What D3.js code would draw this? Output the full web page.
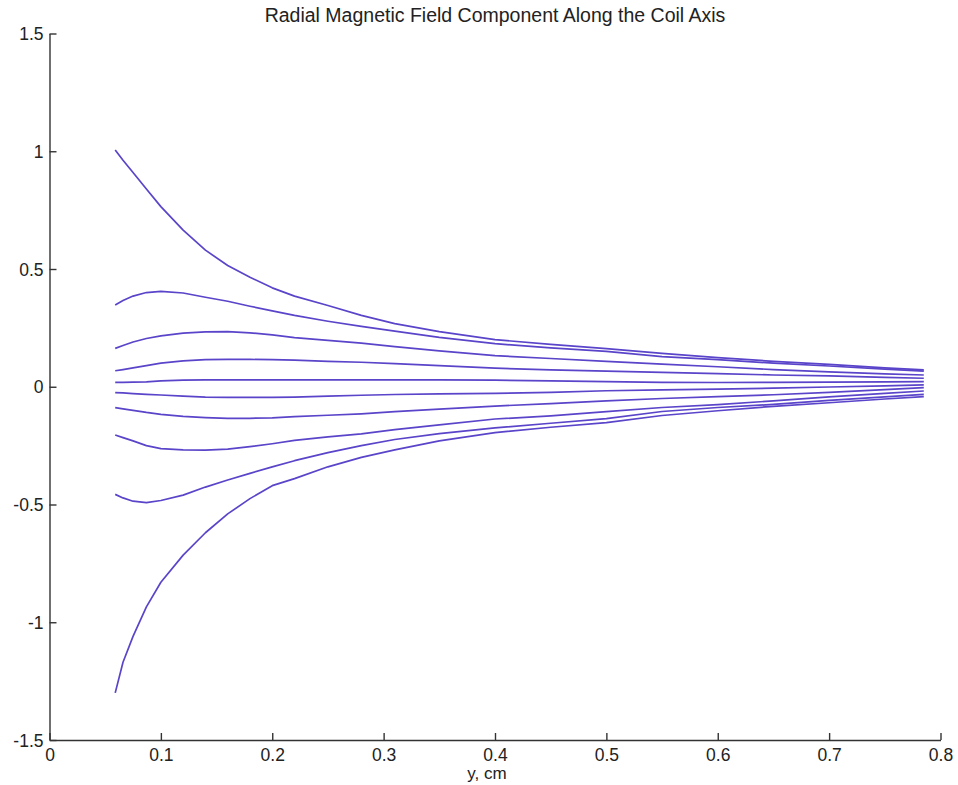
<!DOCTYPE html>
<html>
<head>
<meta charset="utf-8">
<script src="https://cdn.jsdelivr.net/npm/d3@7"></script>
<style>
  body { margin: 0; background: #fff; }
  svg text { font-family: "Liberation Sans", Arial, Helvetica, sans-serif; fill: #222; }
</style>
</head>
<body>
<div class="chart"></div>
<script>
// sample positions along the coil axis (cm)
var yPos = [0.059, 0.066, 0.075, 0.087, 0.1, 0.12, 0.14, 0.16, 0.18, 0.2, 0.22, 0.25,
            0.28, 0.31, 0.35, 0.4, 0.45, 0.5, 0.55, 0.6, 0.65, 0.7, 0.75, 0.785];

// radial field, one array per curve (top to bottom)
var br1  = [1.005, 0.962, 0.91, 0.84, 0.765, 0.665, 0.58, 0.515, 0.465, 0.42, 0.385, 0.345,
            0.303, 0.268, 0.234, 0.2, 0.18, 0.162, 0.142, 0.124, 0.108, 0.095, 0.08, 0.072];
var br2  = [0.347, 0.366, 0.385, 0.4, 0.405, 0.398, 0.38, 0.363, 0.342, 0.322, 0.303, 0.278,
            0.256, 0.236, 0.21, 0.183, 0.165, 0.15, 0.128, 0.115, 0.1, 0.088, 0.075, 0.066];
var br3  = [0.163, 0.175, 0.19, 0.205, 0.216, 0.228, 0.233, 0.234, 0.229, 0.22, 0.209, 0.197,
            0.185, 0.17, 0.152, 0.132, 0.12, 0.108, 0.096, 0.085, 0.073, 0.063, 0.055, 0.05];
var br4  = [0.068, 0.073, 0.08, 0.09, 0.1, 0.11, 0.115, 0.116, 0.116, 0.115, 0.113, 0.108,
            0.104, 0.098, 0.09, 0.079, 0.072, 0.066, 0.061, 0.056, 0.05, 0.046, 0.04, 0.036];
var br5  = [0.019, 0.019, 0.02, 0.021, 0.025, 0.028, 0.029, 0.029, 0.029, 0.029, 0.029, 0.029,
            0.029, 0.029, 0.029, 0.028, 0.025, 0.022, 0.019, 0.018, 0.019, 0.02, 0.021, 0.022];
var br6  = [-0.025, -0.026, -0.029, -0.032, -0.035, -0.04, -0.044, -0.045, -0.045, -0.045, -0.044, -0.04,
            -0.036, -0.033, -0.03, -0.028, -0.024, -0.017, -0.013, -0.01, -0.006, -0.001, 0.004, 0.008];
var br7  = [-0.089, -0.094, -0.1, -0.109, -0.117, -0.126, -0.131, -0.134, -0.134, -0.132, -0.127, -0.121,
            -0.115, -0.106, -0.095, -0.082, -0.072, -0.06, -0.05, -0.042, -0.034, -0.024, -0.012, -0.004];
var br8  = [-0.205, -0.216, -0.23, -0.25, -0.263, -0.268, -0.269, -0.265, -0.254, -0.242, -0.228, -0.213,
            -0.2, -0.182, -0.162, -0.137, -0.124, -0.106, -0.088, -0.076, -0.06, -0.043, -0.028, -0.018];
var br9  = [-0.457, -0.472, -0.486, -0.492, -0.483, -0.46, -0.426, -0.396, -0.368, -0.34, -0.314, -0.28,
            -0.25, -0.224, -0.199, -0.175, -0.155, -0.135, -0.105, -0.088, -0.075, -0.058, -0.043, -0.032];
var br10 = [-1.3, -1.17, -1.06, -0.935, -0.83, -0.715, -0.62, -0.54, -0.475, -0.42, -0.39, -0.34,
            -0.3, -0.268, -0.23, -0.195, -0.172, -0.152, -0.122, -0.102, -0.083, -0.068, -0.052, -0.042];

var series = [br1, br2, br3, br4, br5, br6, br7, br8, br9, br10];

var xTicks = [0, 0.1, 0.2, 0.3, 0.4, 0.5, 0.6, 0.7, 0.8];
var xTickLabels = ["0", "0.1", "0.2", "0.3", "0.4", "0.5", "0.6", "0.7", "0.8"];
var yTicks = [-1.5, -1, -0.5, 0, 0.5, 1, 1.5];
var yTickLabels = ["-1.5", "-1", "-0.5", "0", "0.5", "1", "1.5"];

var width = 958, height = 785;
var margin = {top: 33.5, right: 17.5, bottom: 45, left: 49.5};

var svg = d3.select(".chart")
    .append("svg")
    .attr("width", width)
    .attr("height", height);

var x = d3.scaleLinear().domain([0, 0.8]).range([margin.left, width - margin.right]);
var y = d3.scaleLinear().domain([-1.5, 1.5]).range([height - margin.bottom, margin.top]);

// axes, matlab style: ticks pointing inward
var xAxis = svg.append("g")
    .attr("transform", "translate(0," + y(-1.5) + ")")
    .call(d3.axisBottom(x)
        .tickValues(xTicks)
        .tickFormat(function(d, i) { return xTickLabels[i]; })
        .tickSize(-7)
        .tickSizeOuter(0)
        .tickPadding(9));

var yAxis = svg.append("g")
    .attr("transform", "translate(" + x(0) + ",0)")
    .call(d3.axisLeft(y)
        .tickValues(yTicks)
        .tickFormat(function(d, i) { return yTickLabels[i]; })
        .tickSize(-7)
        .tickSizeOuter(0)
        .tickPadding(6));

svg.selectAll(".domain, .tick line")
    .attr("stroke", "#333")
    .attr("stroke-width", 1.4);
svg.selectAll(".tick text")
    .attr("font-size", 17.5)
    .attr("fill", "#222");
yAxis.selectAll(".tick text").attr("dy", "0.35em");

var line = d3.line()
    .x(function(d) { return x(d[0]); })
    .y(function(d) { return y(d[1]); });

svg.append("g")
    .selectAll("path")
    .data(series)
    .join("path")
    .attr("d", function(s) { return line(yPos.map(function(p, i) { return [p, s[i]]; })); })
    .attr("fill", "none")
    .attr("stroke", "#5a44c9")
    .attr("stroke-width", 1.7)
    .attr("stroke-linejoin", "round");

svg.append("text")
    .attr("x", 495)
    .attr("y", 22)
    .attr("text-anchor", "middle")
    .attr("font-size", 19.5)
    .text("Radial Magnetic Field Component Along the Coil Axis");

svg.append("text")
    .attr("x", 487)
    .attr("y", 779)
    .attr("text-anchor", "middle")
    .attr("font-size", 17)
    .text("y, cm");
</script>
</body>
</html>
